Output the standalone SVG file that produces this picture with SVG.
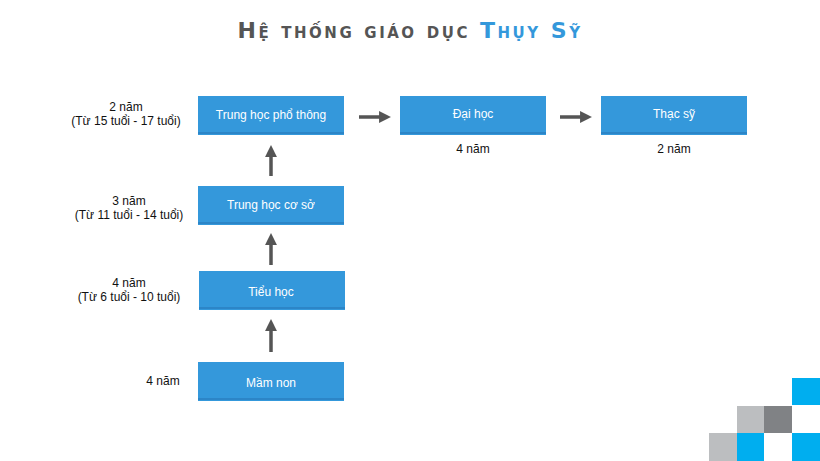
<svg xmlns="http://www.w3.org/2000/svg" width="820" height="461" viewBox="0 0 820 461">
<style>
.box{fill:#3498db}
.ln{stroke:#2a7fc0;stroke-width:1.5}
.bt{font-family:"Liberation Sans",Arial,sans-serif;font-size:12px;fill:#fff;text-anchor:middle}
.lt{font-family:"Liberation Sans",Arial,sans-serif;font-size:12px;fill:#111;text-anchor:middle}
.ar{stroke:#555;stroke-width:3.5;fill:none}
</style>
<defs><marker id="h" viewBox="0 0 10 10" refX="5" refY="5" markerWidth="3.4" markerHeight="3.4" orient="auto"><path d="M0,0L10,5L0,10z" fill="#555"/></marker></defs>
<rect width="820" height="461" fill="#fff"/>
<text x="410" y="38" text-anchor="middle" font-family="DejaVu Sans,sans-serif" font-weight="bold" font-size="22" letter-spacing="2.5" style="font-variant:small-caps" fill="#555">Hệ thống giáo dục <tspan fill="#3498db">Thụy Sỹ</tspan></text>
<g id="n1"><rect class="box" x="198" y="96" width="146" height="39"/><line class="ln" x1="198" y1="133" x2="344" y2="133"/><text class="bt" x="271" y="119">Trung học phổ thông</text></g>
<g id="n2"><rect class="box" x="400" y="96" width="146" height="39"/><line class="ln" x1="400" y1="133" x2="546" y2="133"/><text class="bt" x="473" y="118">Đại học</text></g>
<g id="n3"><rect class="box" x="601" y="96" width="146" height="39"/><line class="ln" x1="601" y1="133" x2="747" y2="133"/><text class="bt" x="674" y="118">Thạc sỹ</text></g>
<g id="n4"><rect class="box" x="198" y="186" width="146" height="39"/><line class="ln" x1="198" y1="223" x2="344" y2="223"/><text class="bt" x="271" y="209">Trung học cơ sở</text></g>
<g id="n5"><rect class="box" x="199" y="271" width="146" height="39"/><line class="ln" x1="199" y1="308" x2="345" y2="308"/><text class="bt" x="271" y="296">Tiểu học</text></g>
<g id="n6"><rect class="box" x="198" y="362" width="146" height="39"/><line class="ln" x1="198" y1="399" x2="344" y2="399"/><text class="bt" x="271" y="387">Mầm non</text></g>
<g id="labels">
<text class="lt" x="126" y="111">2 năm</text><text class="lt" x="126" y="125">(Từ 15 tuổi - 17 tuổi)</text>
<text class="lt" x="129" y="205">3 năm</text><text class="lt" x="129" y="219">(Từ 11 tuổi - 14 tuổi)</text>
<text class="lt" x="129" y="287">4 năm</text><text class="lt" x="129" y="301">(Từ 6 tuổi - 10 tuổi)</text>
<text class="lt" x="163" y="385">4 năm</text>
<text class="lt" x="473" y="153">4 năm</text>
<text class="lt" x="674" y="153">2 năm</text>
</g>
<g id="connectors">
<line class="ar" x1="359" y1="117" x2="385" y2="117" marker-end="url(#h)"/>
<line class="ar" x1="560" y1="117" x2="586" y2="117" marker-end="url(#h)"/>
<line class="ar" x1="271" y1="176" x2="271" y2="151" marker-end="url(#h)"/>
<line class="ar" x1="271" y1="265" x2="271" y2="239" marker-end="url(#h)"/>
<line class="ar" x1="271" y1="352" x2="271" y2="325" marker-end="url(#h)"/>
</g>
<g id="deco">
<rect x="792" y="378" width="28" height="27" fill="#00aeef"/>
<rect x="737" y="406" width="27" height="27" fill="#bcbec0"/>
<rect x="764" y="406" width="28" height="27" fill="#808285"/>
<rect x="709" y="433" width="28" height="28" fill="#bcbec0"/>
<rect x="737" y="433" width="27" height="28" fill="#00aeef"/>
<rect x="792" y="433" width="28" height="28" fill="#00aeef"/>
</g>
</svg>
